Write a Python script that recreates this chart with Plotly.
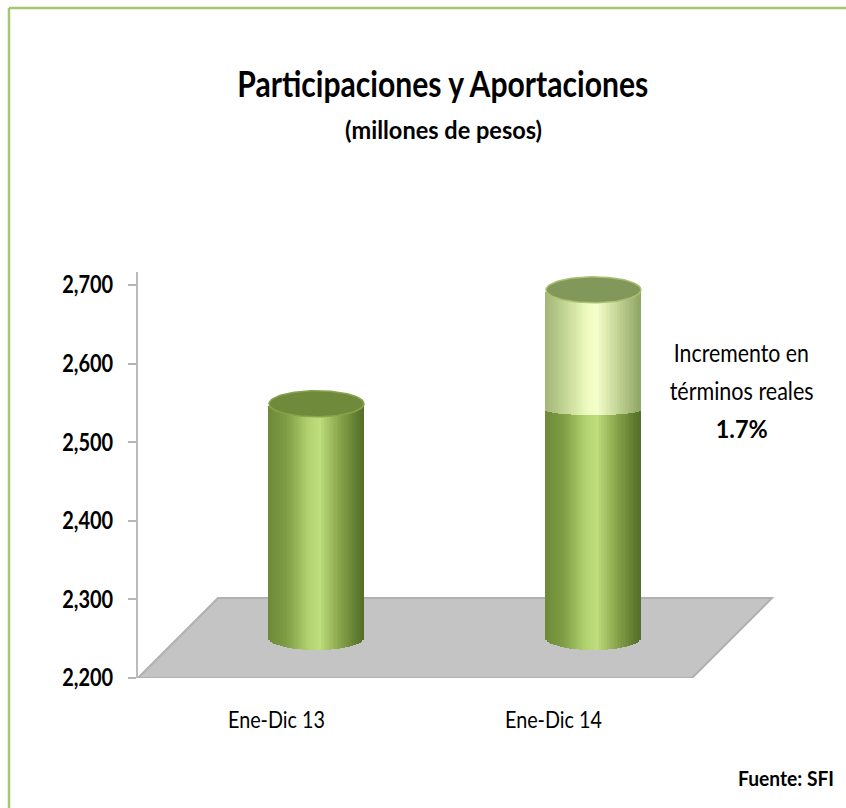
import json
import numpy as np
import plotly.graph_objects as go

W, H = 846, 808
L, R, T, B = 138, 846, 272, 678

categories = [0, 1]
tick_labels = ["Ene-Dic 13", "Ene-Dic 14"]
y_ticks = [2200, 2300, 2400, 2500, 2600, 2700]
y_tick_labels = ["2,200", "2,300", "2,400", "2,500", "2,600", "2,700"]
base_values = [2498, 2490]
increment_values = [0, 153]

FONT = "Lato"
PX_X = 277.0
PX_Y = 393 / 500
x_range = [-0.5, -0.5 + (R - L) / PX_X]
y_range = [2200, 2200 + (B - T) / PX_Y]
floor_dx = 80 / PX_X
floor_dy = 80 / PX_Y
radius = 47.5 / PX_X
cap_b = 13 / PX_Y
base_b = 12 / PX_Y

DARK_STOPS = [(-1, "#6d8a38"), (-0.62, "#7f9d44"), (-0.15, "#b3d372"), (0.08, "#bedd7d"),
              (0.45, "#8eab50"), (0.85, "#607c30"), (1, "#556f2a")]
LIGHT_STOPS = [(-1, "#a3b678"), (-0.6, "#c3d594"), (-0.1, "#eefcc0"), (0.08, "#f4ffcb"),
               (0.5, "#c5d698"), (1, "#8fa564")]

# rendered widths of the condensed lettering in the reference
TEXT_WIDTHS = {
    "Participaciones y Aportaciones": 411, "(millones de pesos)": 197,
    "Incremento en": 135, "términos reales": 144, "1.7%": 52, "Fuente: SFI": 96,
    "Ene-Dic 13": 97, "Ene-Dic 14": 97,
    "2,200": 51, "2,300": 51, "2,400": 51, "2,500": 51, "2,600": 51, "2,700": 51,
}


def mix(stops, t):
    ts = [s[0] for s in stops]
    rgb = [[int(s[1][i:i + 2], 16) for s in stops] for i in (1, 3, 5)]
    return "rgb(%d,%d,%d)" % tuple(round(np.interp(t, ts, c)) for c in rgb)


def segment(cx, lo, hi, lo_b, hi_b, stops):
    n = 60
    edges = np.linspace(-1, 1, n + 1)
    t = (edges[:-1] + edges[1:]) / 2
    arc = np.sqrt(1 - t ** 2)
    bottoms = lo - lo_b * arc
    tops = hi - hi_b * arc
    return go.Bar(
        x=cx + t * radius, y=tops - bottoms, base=bottoms,
        width=2.15 * radius / n,
        marker=dict(color=[mix(stops, v) for v in t], line=dict(width=0)),
        hoverinfo="skip", showlegend=False,
    )


def ellipse(cx, cy, b):
    a = np.linspace(0, 2 * np.pi, 90)
    return cx + radius * np.cos(a), cy + b * np.sin(a)


fig = go.Figure()

ground = 2200 + floor_dy / 2
for c, v, inc in zip(categories, base_values, increment_values):
    cx = c + floor_dx / 2
    top = ground + (v - 2200)
    fig.add_trace(segment(cx, ground, top, base_b, 0 if inc else cap_b, DARK_STOPS))
    cap_y = top
    if inc:
        cap_y = top + inc
        fig.add_trace(segment(cx, top, cap_y, 5 / PX_Y, cap_b, LIGHT_STOPS))
    ex, ey = ellipse(cx, cap_y, cap_b)
    fig.add_trace(go.Scatter(
        x=ex, y=ey, mode="lines", fill="toself",
        fillcolor="#82985a" if inc else "#6f8a3a",
        line=dict(color="#a9c070" if inc else "#88a34c", width=1.5),
        hoverinfo="skip", showlegend=False))


def px(x):
    return (x - L) / (R - L)


def py(y):
    return (B - y) / (B - T)


def note(x, y, text, size, weight=400):
    fig.add_annotation(
        xref="paper", yref="paper", x=px(x), y=py(y), text=text,
        showarrow=False, xanchor="center", yanchor="middle",
        font=dict(family=FONT, size=size, color="#000000", weight=weight))


note(443, 83, "Participaciones y Aportaciones", 36, 700)
note(443, 129, "(millones de pesos)", 25, 700)
note(741.5, 352, "Incremento en", 25)
note(741, 390, "términos reales", 25)
note(741, 428, "1.7%", 25, 700)
note(786, 778, "Fuente: SFI", 20, 700)

frame = "#a8c672"
fx0, fx1 = -0.5, 1.5
fig.update_layout(
    shapes=[
        dict(type="line", xref="paper", yref="paper", x0=px(9), x1=px(846), y0=py(8), y1=py(8),
             line=dict(color=frame, width=2.5)),
        dict(type="line", xref="paper", yref="paper", x0=px(9), x1=px(9), y0=py(8), y1=py(808),
             line=dict(color=frame, width=2.5)),
        dict(type="path", xref="x", yref="y", layer="below",
             path=f"M {fx0} 2200 L {fx1} 2200 L {fx1 + floor_dx} {2200 + floor_dy} "
                  f"L {fx0 + floor_dx} {2200 + floor_dy} Z",
             fillcolor="#c4c4c4", line=dict(color="#b0b0b0", width=2)),
    ],
    width=W, height=H, autosize=False,
    margin=dict(l=L, r=W - R, t=T, b=H - B, pad=0),
    paper_bgcolor="white", plot_bgcolor="white",
    barmode="overlay", bargap=0, showlegend=False,
    font=dict(family=FONT, color="#000000"),
    xaxis=dict(range=x_range, tickmode="array", tickvals=categories, ticktext=tick_labels,
               ticks="", showgrid=False, zeroline=False, showline=False,
               tickfont=dict(family=FONT, size=24), ticklabelstandoff=25),
    yaxis=dict(range=y_range, tickmode="array", tickvals=y_ticks, ticktext=y_tick_labels,
               ticks="outside", ticklen=8, tickcolor="#b5b5b5", tickwidth=1.5,
               showgrid=False, zeroline=False, showline=True, linecolor="#bbbbbb", linewidth=2,
               tickfont=dict(family=FONT, size=24, weight=700), ticklabelstandoff=10),
)

post = """
document.documentElement.style.margin = '0';
document.body.style.margin = '0';
var widths = %s;
function squeeze() {
  document.querySelectorAll('svg text').forEach(function (el) {
    var w = widths[el.textContent];
    if (w && !el.getAttribute('textLength')) {
      el.setAttribute('textLength', w);
      el.setAttribute('lengthAdjust', 'spacingAndGlyphs');
    }
  });
}
squeeze();
setTimeout(squeeze, 50);
setTimeout(squeeze, 300);
""" % json.dumps(TEXT_WIDTHS, ensure_ascii=False)

fig.write_html("out.html", post_script=post, config={"displayModeBar": False})
